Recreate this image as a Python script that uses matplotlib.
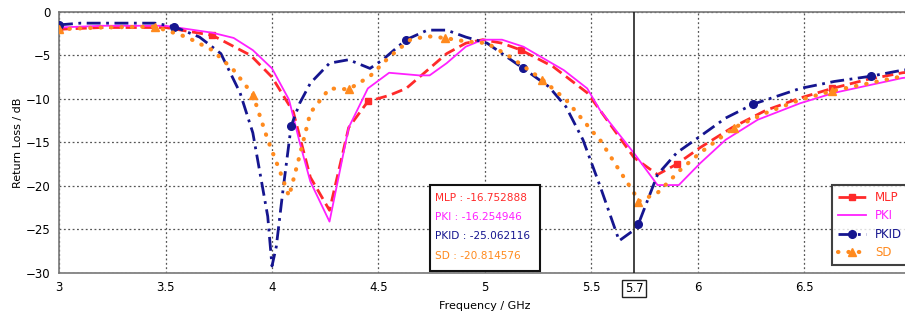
import matplotlib
matplotlib.use("Agg")
import matplotlib.pyplot as plt
from matplotlib.patches import Rectangle
import matplotlib.transforms as mtransforms

# %% data
mlp_x = [3.0, 3.2, 3.5, 3.72, 3.9, 4.0, 4.1, 4.18, 4.27, 4.36, 4.45, 4.55, 4.63, 4.73, 4.82, 4.91,
         4.99, 5.08, 5.17, 5.32, 5.48, 5.54, 5.7, 5.81, 5.9, 6.01, 6.16, 6.32, 6.48, 6.63, 6.79, 6.96, 7.0]
mlp_y = [-2.0, -1.8, -1.8, -2.7, -5.0, -7.5, -11.5, -19.0, -22.8, -13.3, -10.3, -9.6, -8.8, -6.7, -4.8, -3.6,
         -3.2, -3.6, -4.4, -6.3, -9.3, -11.3, -16.75, -18.7, -17.5, -15.6, -13.3, -11.3, -9.9, -8.8, -7.8, -7.0, -6.9]
mlp_marks = [3.0, 3.72, 4.45, 5.17, 5.9, 6.63]

pki_x = [3.0, 3.2, 3.5, 3.72, 3.82, 3.91, 4.0, 4.08, 4.13, 4.18, 4.27, 4.36, 4.45, 4.55, 4.69, 4.74, 4.82,
         4.91, 4.99, 5.08, 5.18, 5.37, 5.48, 5.54, 5.7, 5.81, 5.91, 6.01, 6.13, 6.28, 6.48, 6.64, 6.96, 7.0]
pki_y = [-1.8, -1.6, -1.6, -2.4, -3.0, -4.4, -6.5, -10.1, -15.0, -19.5, -24.1, -13.3, -8.8, -7.0, -7.3, -7.3, -5.9,
         -4.0, -3.2, -3.2, -4.0, -6.7, -8.8, -11.3, -16.25, -19.9, -19.9, -17.4, -14.7, -12.4, -10.5, -9.3, -7.6, -7.5]

pkid_x = [3.0, 3.1, 3.45, 3.54, 3.66, 3.76, 3.85, 3.91, 3.98, 4.0, 4.02, 4.05, 4.09, 4.13, 4.18, 4.27, 4.36,
          4.46, 4.52, 4.63, 4.73, 4.82, 4.91, 5.01, 5.18, 5.3, 5.38, 5.46, 5.54, 5.63, 5.7, 5.72, 5.81, 5.9,
          6.01, 6.13, 6.26, 6.48, 6.64, 6.81, 6.96, 7.0]
pkid_y = [-1.5, -1.3, -1.3, -1.7, -2.9, -4.8, -9.3, -13.9, -23.5, -29.2, -27.0, -20.8, -13.1, -10.5, -8.2, -5.9, -5.5,
          -6.5, -5.5, -3.2, -2.1, -2.1, -2.9, -3.6, -6.5, -8.6, -10.9, -14.7, -20.0, -26.3, -25.06, -24.4, -18.7, -16.2,
          -14.3, -12.2, -10.6, -8.8, -8.0, -7.4, -6.7, -6.6]
pkid_marks = [3.0, 3.54, 4.09, 4.63, 5.18, 5.72, 6.26, 6.81]

sd_x = [3.0, 3.2, 3.45, 3.6, 3.72, 3.82, 3.91, 3.98, 4.04, 4.08, 4.13, 4.18, 4.27, 4.36, 4.46, 4.55, 4.65,
        4.73, 4.81, 4.91, 5.01, 5.12, 5.27, 5.38, 5.51, 5.54, 5.62, 5.7, 5.72, 5.81, 5.92, 6.01, 6.17, 6.32,
        6.48, 6.63, 6.96, 7.0]
sd_y = [-2.0, -1.8, -1.7, -2.9, -4.4, -6.7, -9.5, -14.7, -18.5, -21.2, -16.5, -11.6, -8.8, -8.9, -7.4, -5.2, -3.2,
        -2.8, -3.0, -3.4, -3.6, -5.2, -7.8, -10.1, -13.9, -14.7, -17.8, -20.81, -21.8, -20.8, -18.1, -16.2, -13.3, -11.6,
        -10.1, -9.1, -7.4, -7.3]
sd_marks = [3.0, 3.45, 3.91, 4.36, 4.81, 5.27, 5.72, 6.17, 6.63]

marker_freq = 5.7
readout_names = ["MLP", "PKI", "PKID", "SD"]
readout_vals = ["-16.752888", "-16.254946", "-25.062116", "-20.814576"]

xticks = [3, 3.5, 4, 4.5, 5, 5.5, 6, 6.5]
yticks = [0, -5, -10, -15, -20, -25, -30]

C_MLP = "#ff2a2a"
C_PKI = "#ff20ff"
C_PKID = "#15158f"
C_SD = "#ff8a1e"

plt.rcParams["font.family"] = ["DejaVu Sans"]

fig = plt.figure(figsize=(9.05, 3.2), dpi=100)
ax = fig.add_axes([0.0652, 0.147, 0.9414, 0.816])

def idx(xs, marks):
    return [xs.index(m) for m in marks]

ax.plot(mlp_x, mlp_y, color=C_MLP, lw=2, ls=(0, (4, 2)), marker="s", ms=5,
        markevery=idx(mlp_x, mlp_marks), label="MLP", zorder=3)
ax.plot(pki_x, pki_y, color=C_PKI, lw=1.3, ls="-", label="PKI", zorder=3)
ax.plot(pkid_x, pkid_y, color=C_PKID, lw=2, ls=(0, (5, 2, 1, 2)), marker="o", ms=5.5,
        markevery=idx(pkid_x, pkid_marks), label="PKID", zorder=3)
ax.plot(sd_x, sd_y, color=C_SD, lw=3, ls=(0, (0.1, 2.4)), dash_capstyle="round", marker="^", ms=6,
        markevery=idx(sd_x, sd_marks), label="SD", zorder=3)

ax.axvline(marker_freq, color="#222222", lw=1.2, zorder=4)

ax.set_xlim(3, 7)
ax.set_ylim(-30, 0)
ax.set_xticks(xticks)
ax.set_xticklabels([f"{t:g}" for t in xticks])
ax.set_yticks(yticks)
ax.tick_params(length=0, labelsize=8.5, pad=6)
ax.grid(True, ls=(0, (1.5, 2)), color="#555555", lw=0.9)
for s in ax.spines.values():
    s.set_color("#777777")
    s.set_linewidth(1.2)
ax.set_xlabel("Frequency / GHz", fontsize=8, labelpad=5)
ax.set_ylabel("Return Loss / dB", fontsize=8, labelpad=2)

# marker label under the axis
trans = mtransforms.blended_transform_factory(ax.transData, ax.transAxes)
ax.text(marker_freq, -0.035, f"{marker_freq:g}", transform=trans, ha="center", va="top", fontsize=8.5,
        bbox=dict(boxstyle="square,pad=0.2", fc="white", ec="#222222", lw=1))

# readout box
ax.add_patch(Rectangle((4.74, -29.75), 0.52, 9.9, fc="white", ec="#111111", lw=1.5, zorder=5))
for i, (n, v, c) in enumerate(zip(readout_names, readout_vals, [C_MLP, C_PKI, C_PKID, C_SD])):
    ax.text(4.765, -21.4 - i * 2.2, f"{n} : {v}", color=c, fontsize=7.6, va="center", ha="left", zorder=6)

leg = ax.legend(loc="lower left", bbox_to_anchor=(0.9, 0.008), frameon=True, fancybox=False,
                edgecolor="#111111", fontsize=8.5, handlelength=2.4, labelspacing=0.45,
                borderpad=0.5, handletextpad=0.8)
leg.get_frame().set_linewidth(1.5)
for t, c in zip(leg.get_texts(), [C_MLP, C_PKI, C_PKID, C_SD]):
    t.set_color(c)

fig.savefig("out.png", dpi=100)
